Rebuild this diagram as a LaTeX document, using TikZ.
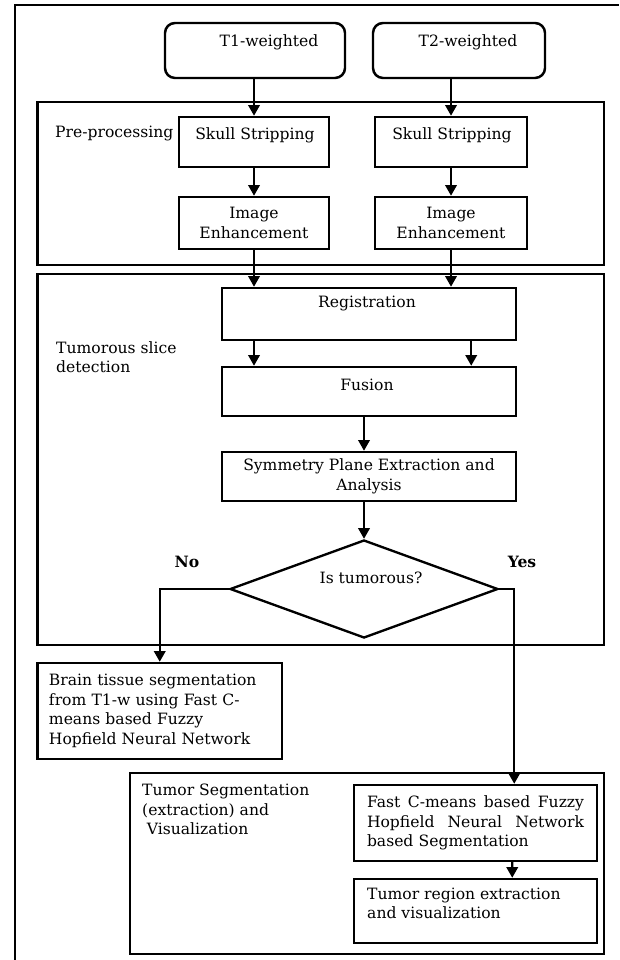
\documentclass[tikz,border=0pt]{standalone}
\usepackage{fontspec}
\setmainfont{DejaVu Serif}
\usetikzlibrary{shapes,arrows.meta,positioning,calc}

\begin{document}
\begin{tikzpicture}[
    x=0.03cm, y=-0.03cm,
    font=\fontsize{13.3pt}{16.6pt}\selectfont,
    src/.style={rectangle, draw, line width=2.1pt, rounded corners=0.3cm, minimum height=1.65cm, inner sep=0pt},
    box/.style={rectangle, draw, line width=2.1pt, inner sep=0pt, align=center},
    grp/.style={rectangle, draw, line width=2.1pt, inner sep=0pt},
    txtbox/.style={rectangle, draw, line width=2.1pt, inner ysep=0pt, align=left},
    dec/.style={diamond, draw, line width=2pt, inner sep=0pt, minimum width=8.04cm, minimum height=2.94cm},
    lbl/.style={inner sep=0pt, align=left},
    arrow/.style={->, >={Triangle[length=0.32cm,width=0.34cm]}, line width=2pt}
]
\useasboundingbox (0,0) rectangle (619,960);

% Outer frame
\draw[line width=1.8pt] (15,960) -- (15,5) -- (619,5);

% Groups
\node[grp, minimum width=17cm, minimum height=4.89cm] (pre) at (320.75,183.5) {};
\node[grp, minimum width=17cm, minimum height=11.13cm] (tum) at (320.75,459.5) {};
\node[grp, minimum width=14.22cm, minimum height=5.43cm] (seg) at (367,863.5) {};

\node[lbl, anchor=west] (pre-lbl) at (55,133) {Pre-processing};
\node[lbl, anchor=west] (tum-lbl) at (56,357) {Tumorous slice\\detection};
\node[lbl, anchor=west] (seg-lbl) at (142,809.5) {Tumor Segmentation\\(extraction) and\\\hspace{0.3em}Visualization};

% Inputs
\node[src, minimum width=5.4cm] (t1) at (255,50.5) {};
\node (t1-txt) at (269,42) {T1-weighted};
\node[src, minimum width=5.16cm] (t2) at (459,50.5) {};
\node (t2-txt) at (468,42) {T2-weighted};

% Pre-processing
\node[box, minimum width=4.5cm, minimum height=1.5cm] (skull1) at (254,142) {};
\node (skull1-txt) at (255,135) {Skull Stripping};
\node[box, minimum width=4.56cm, minimum height=1.5cm] (skull2) at (451,142) {};
\node (skull2-txt) at (452,135) {Skull Stripping};
\node[box, minimum width=4.5cm, minimum height=1.56cm] (enh1) at (254,223) {Image\\Enhancement};
\node[box, minimum width=4.56cm, minimum height=1.56cm] (enh2) at (451,223) {Image\\Enhancement};

% Tumorous slice detection
\node[box, minimum width=8.82cm, minimum height=1.56cm] (reg) at (369,314) {};
\node (reg-txt) at (367,303) {Registration};
\node[box, minimum width=8.82cm, minimum height=1.47cm] (fusion) at (369,391.5) {};
\node (fusion-txt) at (367,385) {Fusion};
\node[box, minimum width=8.82cm, minimum height=1.47cm] (sym) at (369,476.5) {Symmetry Plane Extraction and\\Analysis};
\node[dec] (dia) at (364,589) {};
\node (dia-txt) at (371,578) {Is tumorous?};
\node (no) at (187,562) {\textbf{No}};
\node (yes) at (522,562) {\textbf{Yes}};

% Outputs
\node[txtbox, text width=6.645cm, inner xsep=0.345cm, minimum height=2.88cm] (brain) at (159.75,711) {Brain tissue segmentation\\from T1-w using Fast C-\\means based Fuzzy\\Hopfield Neural Network};
\node[txtbox, text width=6.51cm, inner xsep=0.39cm, minimum height=2.28cm] (fast) at (475.5,823) {Fast\hfill C-means\hfill based\hfill Fuzzy\\Hopfield\hfill Neural\hfill Network\\based Segmentation};
\node[box, minimum width=7.29cm, minimum height=1.92cm] (treg) at (475.5,911) {};
\node[lbl, anchor=west] (treg-txt) at (367,903.5) {Tumor region extraction\\and visualization};

% Arrows
\draw[arrow] (skull1.north |- t1.south) -- (skull1.north);
\draw[arrow] (skull2.north |- t2.south) -- (skull2.north);
\draw[arrow] (skull1) -- (enh1);
\draw[arrow] (skull2) -- (enh2);
\draw[arrow] (enh1.south) -- (enh1.south |- reg.north);
\draw[arrow] (enh2.south) -- (enh2.south |- reg.north);
\draw[arrow] (enh1.south |- reg.south) -- (enh1.south |- fusion.north);
\draw[arrow] ($(reg.south east)+(-46,0)$) -- ($(fusion.north east)+(-46,0)$);
\draw[arrow] (fusion.south -| dia.north) -- (sym.north -| dia.north);
\draw[arrow] (sym.south -| dia.north) -- (dia.north);
\draw[arrow] (dia.west) -| (brain.north);
\draw[arrow] (dia.east) -| ($(fast.north east)+(-84,0)$);
\draw[arrow] ($(fast.south east)+(-86,0)$) -- ($(treg.north east)+(-86,0)$);

\end{tikzpicture}
\end{document}
